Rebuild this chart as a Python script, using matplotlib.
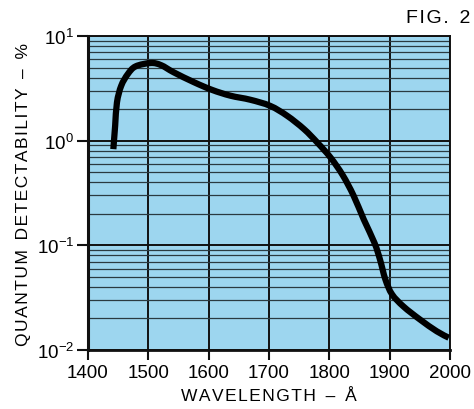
import matplotlib
matplotlib.use("Agg")
import matplotlib.pyplot as plt
import numpy as np
from matplotlib.ticker import LogLocator, FixedLocator
from matplotlib.path import Path
from matplotlib.patches import PathPatch

plt.rcParams["font.family"] = ["Liberation Sans", "DejaVu Sans"]

wavelength = [1442, 1445, 1448, 1455, 1466, 1479, 1504, 1521, 1542, 1576, 1606,
              1636, 1669, 1702, 1730, 1758, 1780, 1802, 1822, 1840, 1857, 1875,
              1884, 1893, 1904, 1923, 1950, 1978, 1998]
detectability = [0.83, 1.39, 2.32, 3.34, 4.33, 5.13, 5.52, 5.27, 4.50, 3.61, 3.05,
                 2.69, 2.46, 2.15, 1.73, 1.29, 0.96, 0.69, 0.47, 0.30, 0.177, 0.105,
                 0.073, 0.047, 0.034, 0.026, 0.0196, 0.0151, 0.0131]
x_ticks = [1400, 1500, 1600, 1700, 1800, 1900, 2000]

HS = "\u200a"


def spaced(text):
    return "  ".join(HS.join(word) for word in text.split(" "))


bg = "#9dd6ef"
fig = plt.figure(figsize=(4.74, 4.10), dpi=100)
fig.patch.set_facecolor("white")
ax = fig.add_axes([88/474, 1 - 351/410, (450-88)/474, (351-37)/410])
ax.set_facecolor(bg)
ax.set_yscale("log")
ax.set_xlim(1400, 2000)
ax.set_ylim(1e-2, 1e1)

ax.xaxis.set_major_locator(FixedLocator(x_ticks))
ax.yaxis.set_major_locator(LogLocator(base=10, numticks=10))
ax.yaxis.set_minor_locator(LogLocator(base=10, subs=np.arange(2, 10), numticks=20))

ax.grid(True, which="major", axis="both", color="#111111", linewidth=1.4)
ax.grid(True, which="minor", axis="y", color="#2a3a40", linewidth=0.9)
ax.set_axisbelow(True)

# smooth drawing of the read points: Catmull-Rom segments as cubic Beziers,
# control points built in (x, log y) space and drawn through the data transform
xs = np.array(wavelength, dtype=float)
ly = np.log10(np.array(detectability, dtype=float))
n = len(xs)
verts = [(xs[0], 10 ** ly[0])]
codes = [Path.MOVETO]
for i in range(n - 1):
    i0, i3 = max(i - 1, 0), min(i + 2, n - 1)
    c1 = (xs[i] + (xs[i + 1] - xs[i0]) / 6, ly[i] + (ly[i + 1] - ly[i0]) / 6)
    c2 = (xs[i + 1] - (xs[i3] - xs[i]) / 6, ly[i + 1] - (ly[i3] - ly[i]) / 6)
    verts += [(c1[0], 10 ** c1[1]), (c2[0], 10 ** c2[1]), (xs[i + 1], 10 ** ly[i + 1])]
    codes += [Path.CURVE4] * 3
curve = PathPatch(Path(verts, codes), facecolor="none", edgecolor="black",
                  linewidth=4.5, capstyle="butt", joinstyle="round", zorder=5)
ax.add_patch(curve)

for side in ["left", "right", "top", "bottom"]:
    ax.spines[side].set_color("#111111")
ax.spines["left"].set_linewidth(2.2)
ax.spines["right"].set_linewidth(1.4)
ax.spines["top"].set_linewidth(1.4)
ax.spines["bottom"].set_linewidth(2.0)

ax.tick_params(axis="y", which="major", length=8, width=1.5, color="#111111",
               labelsize=13.5, pad=2)
ax.tick_params(axis="y", which="minor", length=0, labelleft=False)
ax.tick_params(axis="x", which="major", length=7, width=1.5, color="#111111",
               labelsize=13.5, pad=3)

ax.set_ylabel(spaced("QUANTUM DETECTABILITY – %"), fontsize=12.5, labelpad=4)
ax.set_xlabel(spaced("WAVELENGTH – Å"), fontsize=12.5, labelpad=5)
fig.text(0.993, 0.955, spaced("FIG. 2"), ha="right", va="center", fontsize=14)

fig.savefig("out.png", dpi=100, facecolor="white")
